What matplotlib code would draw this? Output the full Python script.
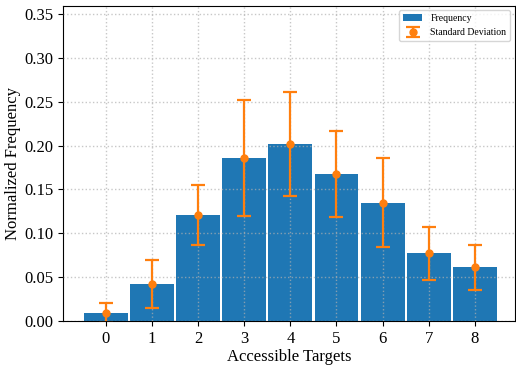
import matplotlib
matplotlib.use("Agg")
import matplotlib.pyplot as plt
import numpy as np

plt.rcParams['font.family'] = ['Liberation Serif', 'DejaVu Serif']

targets = [0, 1, 2, 3, 4, 5, 6, 7, 8]
freq = [0.009, 0.042, 0.121, 0.186, 0.202, 0.168, 0.135, 0.077, 0.061]
std = [0.011, 0.027, 0.034, 0.066, 0.059, 0.049, 0.051, 0.030, 0.026]

fig, ax = plt.subplots(figsize=(5.16, 3.68), dpi=100)
ax.bar(targets, freq, width=0.95, color='#1f77b4', label='Frequency', zorder=1)
ax.errorbar(targets, freq, yerr=std, fmt='o', color='#ff7f0e', ecolor='#ff7f0e',
            elinewidth=1.6, capsize=5, capthick=1.6, markersize=5,
            label='Standard Deviation', zorder=4)
ax.set_ylim(0, 0.36)
ax.set_xlim(-0.93, 8.87)
ax.set_xticks(targets)
yt = np.arange(0, 0.351, 0.05)
ax.set_yticks(yt)
ax.set_yticklabels([f"{v:.2f}" for v in yt])
ax.tick_params(labelsize=12, length=3.5)
ax.set_xlabel('Accessible Targets', fontsize=12, labelpad=1.5)
ax.set_ylabel('Normalized Frequency', fontsize=12, labelpad=2)
ax.grid(True, linestyle=':', color='#b0b0b0', linewidth=1, alpha=0.7, zorder=2)
ax.set_axisbelow(False)
ax.legend(loc='upper right', fontsize=7, framealpha=0.8)
fig.subplots_adjust(left=0.122, right=0.998, top=0.985, bottom=0.128)
fig.savefig('out.png', dpi=100)
